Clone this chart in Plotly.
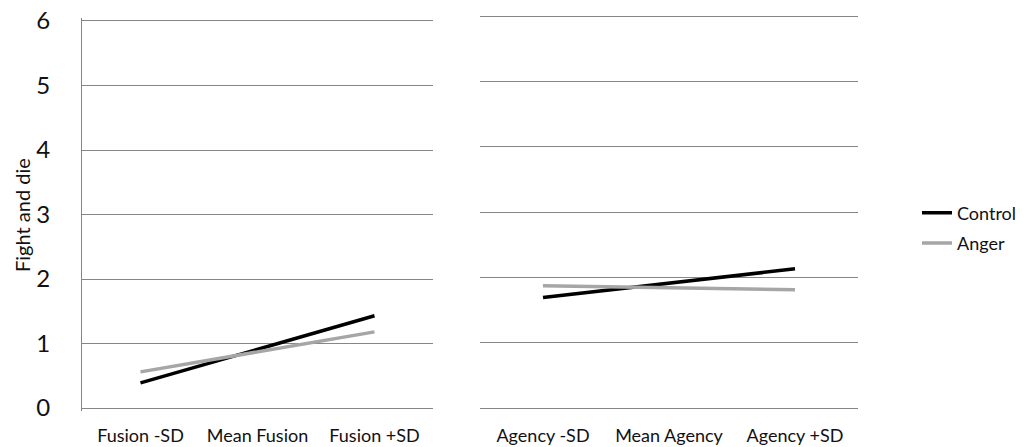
import plotly.graph_objects as go

fusion_cats = ["Fusion -SD", "Mean Fusion", "Fusion +SD"]
agency_cats = ["Agency -SD", "Mean Agency", "Agency +SD"]
fusion_control = [0.39, 0.91, 1.43]
fusion_anger = [0.56, 0.87, 1.18]
agency_control = [1.69, 1.91, 2.13]
agency_anger = [1.87, 1.84, 1.81]
y_ticks = [0, 1, 2, 3, 4, 5, 6]

W, H = 1026, 447
grid = "#868686"
black = "#000000"
gray = "#A6A6A6"
font = "Lato"
txt = "#111111"
pad = 0.05

fig = go.Figure()
fig.add_trace(go.Scatter(x=fusion_cats, y=fusion_control, mode="lines", name="Control",
                         line=dict(color=black, width=3.5), xaxis="x", yaxis="y", legendgroup="c"))
fig.add_trace(go.Scatter(x=fusion_cats, y=fusion_anger, mode="lines", name="Anger",
                         line=dict(color=gray, width=3.5), xaxis="x", yaxis="y", legendgroup="a"))
fig.add_trace(go.Scatter(x=agency_cats, y=agency_control, mode="lines", name="Control",
                         line=dict(color=black, width=3.5), xaxis="x2", yaxis="y2",
                         legendgroup="c", showlegend=False))
fig.add_trace(go.Scatter(x=agency_cats, y=agency_anger, mode="lines", name="Anger",
                         line=dict(color=gray, width=3.5), xaxis="x2", yaxis="y2",
                         legendgroup="a", showlegend=False))

# left panel: 0 at 408px, 6 at 21px ; right panel: 0 at 408px, 6 at 16px
ppu_l = (408 - 21) / 6
ppu_r = (408 - 16) / 6
dom_l = [(H - (408 + pad * ppu_l)) / H, (H - (21 - pad * ppu_l)) / H]
dom_r = [(H - (408 + pad * ppu_r)) / H, (H - (16 - pad * ppu_r)) / H]

fig.update_layout(
    width=W, height=H,
    margin=dict(l=0, r=0, t=0, b=0, autoexpand=False),
    paper_bgcolor="white", plot_bgcolor="white",
    font=dict(family=font, color=txt, size=18),
    hovermode=False,
    xaxis=dict(domain=[82 / W, 433 / W], anchor="y", showgrid=False, zeroline=False,
               showline=False, ticks="", tickfont=dict(size=18), automargin=False,
               ticklabelstandoff=12, range=[-0.5, 2.5]),
    yaxis=dict(domain=dom_l, anchor="x", range=[-pad, 6 + pad], tickvals=y_ticks,
               showgrid=True, gridcolor=grid, gridwidth=1.2, zeroline=False, automargin=False,
               showline=True, linecolor=grid, linewidth=1.2, ticks="",
               tickfont=dict(size=24), ticklabelstandoff=26),
    xaxis2=dict(domain=[480 / W, 858 / W], anchor="y2", showgrid=False, zeroline=False,
                showline=False, ticks="", tickfont=dict(size=18), automargin=False,
                ticklabelstandoff=12, range=[-0.5, 2.5]),
    yaxis2=dict(domain=dom_r, anchor="x2", range=[-pad, 6 + pad], tickvals=y_ticks,
                showgrid=True, gridcolor=grid, gridwidth=1.2, zeroline=False, automargin=False,
                showline=False, showticklabels=False, ticks=""),
    legend=dict(x=917 / W, y=(H - 228) / H, xanchor="left", yanchor="middle",
                font=dict(size=18), tracegroupgap=4, bgcolor="rgba(0,0,0,0)"),
    annotations=[dict(text="Fight and die", xref="paper", yref="paper",
                      x=22 / W, y=(H - 215) / H, textangle=-90, showarrow=False,
                      font=dict(size=20), xanchor="center", yanchor="middle")],
)
fig.write_html("out.html", config={"displayModeBar": False},
               post_script="document.body.style.margin='0';document.body.style.padding='0';")
